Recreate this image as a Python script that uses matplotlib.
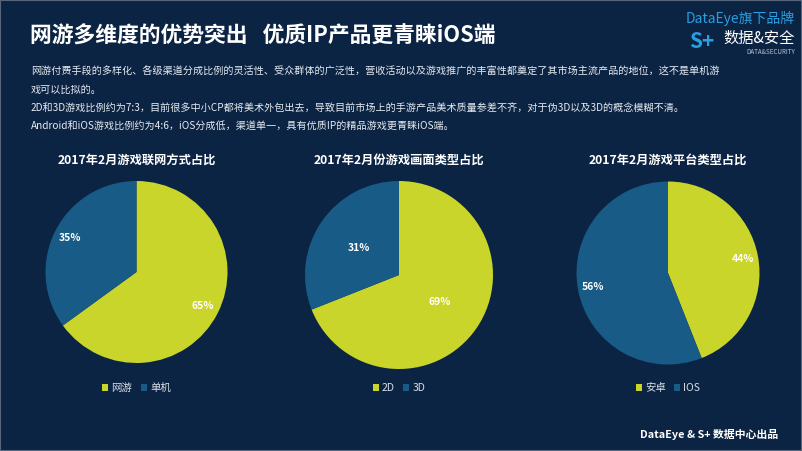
import matplotlib
matplotlib.use('Agg')
import matplotlib.pyplot as plt
from matplotlib.patches import Patch, Rectangle

plt.rcParams['font.family'] = ['Noto Sans CJK SC', 'DejaVu Sans']

# ---- data ----
titles = ['2017年2月游戏联网方式占比', '2017年2月份游戏画面类型占比', '2017年2月游戏平台类型占比']
labels_net = ['网游', '单机']
values_net = [65, 35]
labels_dim = ['2D', '3D']
values_dim = [69, 31]
labels_platform = ['安卓', 'IOS']
values_platform = [44, 56]

main_title = '网游多维度的优势突出   优质IP产品更青睐iOS端'
body_lines = [
    '网游付费手段的多样化、各级渠道分成比例的灵活性、受众群体的广泛性，营收活动以及游戏推广的丰富性都奠定了其市场主流产品的地位，这不是单机游',
    '戏可以比拟的。',
    '2D和3D游戏比例约为7:3，目前很多中小CP都将美术外包出去，导致目前市场上的手游产品美术质量参差不齐，对于伪3D以及3D的概念模糊不清。',
    'Android和iOS游戏比例约为4:6，iOS分成低，渠道单一，具有优质IP的精品游戏更青睐iOS端。',
]

BG = '#0c2443'
YELLOW = '#c9d52b'
BLUE = '#175b86'
W, H = 802, 451

fig = plt.figure(figsize=(W / 100, H / 100), dpi=100)
fig.patch.set_facecolor(BG)
fig.add_artist(Rectangle((0, 0), 1, 1, transform=fig.transFigure, fill=False,
                         edgecolor='#56657a', linewidth=1.5))

# header
fig.text(30 / W, 1 - 36 / H, main_title, color='white', fontsize=15.7,
         fontweight='bold', va='center', ha='left')
for i, line in enumerate(body_lines):
    fig.text(31 / W, 1 - (72 + i * 18) / H, line, color='#e6ebf2',
             fontsize=7.25, va='center', ha='left')

# logo
fig.text(795 / W, 1 - 18 / H, 'DataEye旗下品牌', color='#2a9ee0', fontsize=10,
         ha='right', va='center')
fig.text(795 / W, 1 - 38 / H, '数据&安全', color='white', fontsize=11,
         ha='right', va='center')
fig.text(795 / W, 1 - 52 / H, 'DATA&SECURITY', color='#b8c4d2', fontsize=4.5,
         ha='right', va='center')
fig.text(702 / W, 1 - 42 / H, 'S+', color='#2a9ee0', fontsize=15,
         fontweight='bold', ha='center', va='center')

# footer
fig.text(778 / W, 1 - 434 / H, 'DataEye & S+ 数据中心出品', color='white',
         fontsize=7.8, fontweight='bold', ha='right', va='center')


def draw_pie(cx, cy, r, values, labels, title, colors, pctdist):
    ax = fig.add_axes([(cx - r) / W, (H - cy - r) / H, 2 * r / W, 2 * r / H])
    ax.pie(values, colors=colors, startangle=90, counterclock=False,
           radius=1, autopct='%d%%', pctdistance=pctdist,
           textprops=dict(color='white', fontsize=7.5, fontweight='bold'),
           wedgeprops=dict(linewidth=0))
    ax.set_xlim(-1, 1)
    ax.set_ylim(-1, 1)
    ax.set_aspect('equal')
    ax.axis('off')
    fig.text(cx / W, 1 - 160 / H, title, color='white', fontsize=8.8,
             fontweight='bold', ha='center', va='center')
    handles = [Patch(facecolor=c, label=l) for c, l in zip(colors, labels)]
    fig.legend(handles=handles, loc='center', ncol=2, frameon=False,
               bbox_to_anchor=(cx / W, 1 - 388 / H), fontsize=7.5,
               labelcolor='#d8dee8', handlelength=0.6, handleheight=0.6,
               handletextpad=0.3, columnspacing=0.8)


draw_pie(136.5, 272, 91, values_net, labels_net, titles[0], [YELLOW, BLUE], 0.82)
draw_pie(399, 275, 94, values_dim, labels_dim, titles[1], [YELLOW, BLUE], 0.52)
draw_pie(668, 273, 91.5, values_platform, labels_platform, titles[2], [YELLOW, BLUE], 0.83)

fig.savefig('out.png', dpi=100, facecolor=BG)
